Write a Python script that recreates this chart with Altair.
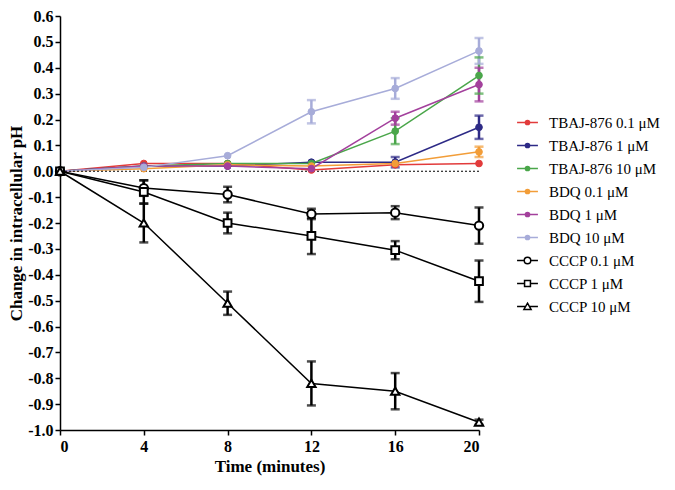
import altair as alt
import pandas as pd

times = [0, 4, 8, 12, 16, 20]

series_names = [
    "TBAJ-876 0.1 μM", "TBAJ-876 1 μM", "TBAJ-876 10 μM",
    "BDQ 0.1 μM", "BDQ 1 μM", "BDQ 10 μM",
    "CCCP 0.1 μM", "CCCP 1 μM", "CCCP 10 μM",
]
line_colors = ["#e23b3b", "#2d2a86", "#4aa64a", "#f29d38", "#a3409c", "#a7acd9",
               "#000000", "#000000", "#000000"]
fill_colors = ["#e23b3b", "#2d2a86", "#4aa64a", "#f29d38", "#a3409c", "#a7acd9",
               "#ffffff", "#ffffff", "#ffffff"]

tbaj_01 = [0.0, 0.03, 0.03, 0.005, 0.025, 0.03]
tbaj_1 = [0.0, 0.02, 0.02, 0.035, 0.035, 0.17]
tbaj_10 = [0.0, 0.02, 0.03, 0.03, 0.155, 0.37]
bdq_01 = [0.0, 0.01, 0.025, 0.02, 0.03, 0.075]
bdq_1 = [0.0, 0.02, 0.02, 0.01, 0.205, 0.335]
bdq_10 = [0.0, 0.015, 0.06, 0.23, 0.32, 0.465]
cccp_01 = [0.0, -0.065, -0.09, -0.165, -0.16, -0.21]
cccp_1 = [0.0, -0.08, -0.2, -0.25, -0.305, -0.425]
cccp_10 = [0.0, -0.2, -0.51, -0.82, -0.85, -0.97]

tbaj_01_err = [0, 0, 0, 0, 0, 0]
tbaj_1_err = [0, 0, 0, 0, 0.02, 0.045]
tbaj_10_err = [0, 0, 0, 0, 0.05, 0.07]
bdq_01_err = [0, 0, 0, 0, 0, 0.02]
bdq_1_err = [0, 0, 0, 0, 0.025, 0.065]
bdq_10_err = [0, 0, 0, 0.045, 0.04, 0.05]
cccp_01_err = [0, 0.03, 0.03, 0.02, 0.025, 0.07]
cccp_1_err = [0, 0.045, 0.04, 0.07, 0.035, 0.08]
cccp_10_err = [0, 0.075, 0.045, 0.085, 0.07, 0.01]

y_ticks = [round(-1.0 + 0.1 * i, 1) for i in range(17)]
x_ticks = [0, 4, 8, 12, 16, 20]

all_values = [tbaj_01, tbaj_1, tbaj_10, bdq_01, bdq_1, bdq_10, cccp_01, cccp_1, cccp_10]
all_errors = [tbaj_01_err, tbaj_1_err, tbaj_10_err, bdq_01_err, bdq_1_err, bdq_10_err,
              cccp_01_err, cccp_1_err, cccp_10_err]

rows = []
for name, vals, errs in zip(series_names, all_values, all_errors):
    for t, v, e in zip(times, vals, errs):
        rows.append({"series": name, "time": t, "value": v, "err": e,
                     "lo": v - e, "hi": v + e})
df = pd.DataFrame(rows)

FONT = "Liberation Serif"

stroke_scale = alt.Scale(domain=series_names, range=line_colors)
fill_scale = alt.Scale(domain=series_names, range=fill_colors)

legend_paths = [
    "M-1.6,0H1.6M0.32,0A0.32,0.32,0,1,1,-0.32,0A0.32,0.32,0,1,1,0.32,0",
] * 6 + [
    "M-1.6,0H-0.5M0.5,0H1.6M0.5,0A0.5,0.5,0,1,1,-0.5,0A0.5,0.5,0,1,1,0.5,0",
    "M-1.6,0H-0.45M0.45,0H1.6M-0.45,-0.45H0.45V0.45H-0.45Z",
    "M-1.6,0H-0.29M0.29,0H1.6M0,-0.5L0.55,0.45H-0.55Z",
]

axis_style = dict(labelFont=FONT, titleFont=FONT, labelFontWeight="bold", titleFontWeight="bold",
                  labelFontSize=16, titleFontSize=17, labelColor="black", titleColor="black",
                  domainColor="black", tickColor="black", domainWidth=1.5, tickWidth=1.5,
                  tickSize=5, grid=False, labelOverlap=False)

x_axis = alt.Axis(values=x_ticks, title="Time (minutes)", format="d",
                  titlePadding=4, labelPadding=3, **axis_style)
y_axis = alt.Axis(values=y_ticks, title="Change in intracellular pH",
                  labelExpr="replace(format(datum.value, '.1f'), '\u2212', '-')",
                  titlePadding=2, labelPadding=2, **axis_style)
x_scale = alt.Scale(domain=[0, 20], nice=False)
y_scale = alt.Scale(domain=[-1.0, 0.6], nice=False)

x_enc = alt.X("time:Q", scale=x_scale, axis=x_axis)
y_enc = alt.Y("value:Q", scale=y_scale, axis=y_axis)

base = alt.Chart(df)

lines = base.mark_line(strokeWidth=1.5).encode(
    x=x_enc, y=y_enc,
    stroke=alt.Stroke("series:N", scale=stroke_scale, legend=None),
)

zero = alt.Chart(pd.DataFrame({"value": [0.0]})).mark_rule(
    color="black", strokeWidth=1, strokeDash=[2, 2]
).encode(y=y_enc)

err_base = base.transform_filter("datum.err > 0")
err_rules = err_base.mark_rule(strokeWidth=2.5).encode(
    x=x_enc, y=alt.Y("lo:Q", scale=y_scale, axis=y_axis), y2="hi:Q",
    stroke=alt.Stroke("series:N", scale=stroke_scale, legend=None),
)
cap_lo = err_base.mark_tick(orient="horizontal", size=9, thickness=2.5).encode(
    x=x_enc, y=alt.Y("lo:Q", scale=y_scale, axis=y_axis),
    color=alt.Color("series:N", scale=stroke_scale, legend=None),
)
cap_hi = err_base.mark_tick(orient="horizontal", size=9, thickness=2.5).encode(
    x=x_enc, y=alt.Y("hi:Q", scale=y_scale, axis=y_axis),
    color=alt.Color("series:N", scale=stroke_scale, legend=None),
)

def points(filter_expr, shape, size, sw):
    return base.transform_filter(filter_expr).mark_point(
        shape=shape, size=size, filled=True, strokeWidth=sw, opacity=1
    ).encode(
        x=x_enc, y=y_enc,
        stroke=alt.Stroke("series:N", scale=stroke_scale, legend=None),
        fill=alt.Fill("series:N", scale=fill_scale, legend=None),
    )

colored_names = series_names[:6]
pts_col = points(alt.FieldOneOfPredicate(field="series", oneOf=colored_names), "circle", 45, 1)
pts_c1 = points(alt.FieldEqualPredicate(field="series", equal=series_names[6]), "circle", 70, 2)
pts_c2 = points(alt.FieldEqualPredicate(field="series", equal=series_names[7]), "square", 60, 2)
pts_c3 = points(alt.FieldEqualPredicate(field="series", equal=series_names[8]), "triangle-up", 70, 2)

leg = alt.Legend(title=None, orient="none", legendX=460, legendY=99,
                 labelFont=FONT, labelFontSize=15, labelColor="black",
                 symbolSize=170, labelOffset=14, rowPadding=7, labelLimit=0,
                 symbolStrokeWidth=1.5)

legend_layer = base.transform_filter("datum.time < 0").mark_point(
    filled=True, strokeWidth=1.5, opacity=1
).encode(
    shape=alt.Shape("series:N", scale=alt.Scale(domain=series_names, range=legend_paths), legend=leg),
    stroke=alt.Stroke("series:N", scale=stroke_scale, legend=leg),
    fill=alt.Fill("series:N", scale=fill_scale, legend=leg),
)

chart = alt.layer(
    lines, zero, err_rules, cap_lo, cap_hi, pts_col, pts_c1, pts_c2, pts_c3, legend_layer
).resolve_legend(
    stroke="independent", fill="independent", shape="independent"
).properties(
    width=419, height=414,
    autosize=alt.AutoSizeParams(type="none"),
    padding={"left": 52, "top": 8, "right": 187, "bottom": 47},
).configure_view(stroke=None)

chart.save("out.html", embed_options={"renderer": "svg", "actions": False})
